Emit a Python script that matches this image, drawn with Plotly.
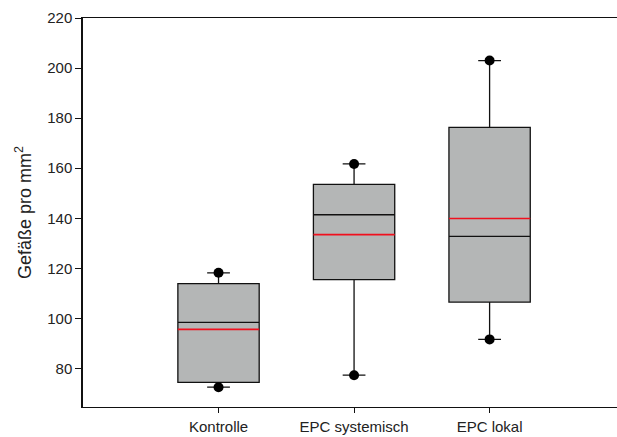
import plotly.graph_objects as go

categories = ["Kontrolle", "EPC systemisch", "EPC lokal"]
q1 = [74.4, 115.5, 106.5]
median = [98.4, 141.4, 132.8]
q3 = [113.9, 153.5, 176.3]
mean = [95.6, 133.5, 139.9]
lower = [72.5, 77.3, 91.6]
upper = [118.2, 161.7, 203.0]
y_ticks = [80, 100, 120, 140, 160, 180, 200, 220]

pos = list(range(len(categories)))
BOX_W = 0.6
FONT = "Liberation Sans, Arial, sans-serif"

fig = go.Figure()

fig.add_trace(go.Box(
    x=pos, q1=q1, median=median, q3=q3,
    lowerfence=lower, upperfence=upper,
    width=BOX_W, whiskerwidth=0.28,
    fillcolor="#b4b6b6", line=dict(color="#111111", width=1.3),
    boxpoints=False, hoverinfo="skip", showlegend=False,
))

mx, my = [], []
for p, m in zip(pos, mean):
    mx += [p - BOX_W / 2, p + BOX_W / 2, None]
    my += [m, m, None]
fig.add_trace(go.Scatter(
    x=mx, y=my, mode="lines", line=dict(color="#f0101e", width=1.7),
    hoverinfo="skip", showlegend=False,
))

fig.add_trace(go.Scatter(
    x=pos + pos, y=upper + lower, mode="markers",
    marker=dict(color="#000000", size=10),
    hoverinfo="skip", showlegend=False,
))

fig.update_layout(
    width=617, height=437,
    margin=dict(l=83, r=0, t=18, b=30),
    paper_bgcolor="white", plot_bgcolor="white",
    font=dict(family=FONT, size=14, color="#222222"),
    xaxis=dict(
        range=[-1.0, 2.94], tickvals=pos, ticktext=categories,
        showline=True, linecolor="#111111", linewidth=1.3, mirror=True,
        ticks="outside", ticklen=5, tickcolor="#111111", tickwidth=1.3,
        showgrid=False, zeroline=False, tickfont=dict(size=15),
        ticklabelstandoff=1, automargin=False,
    ),
    yaxis=dict(
        range=[64.6, 220], tickvals=y_ticks,
        showline=True, linecolor="#111111", linewidth=1.5,
        ticks="outside", ticklen=6, tickcolor="#111111", tickwidth=1.3,
        showgrid=False, zeroline=False, tickfont=dict(size=15),
        automargin=False,
        title=dict(text="Gefäße pro mm<sup>2</sup>", font=dict(size=18), standoff=11),
    ),
)

fig.write_html("out.html")
